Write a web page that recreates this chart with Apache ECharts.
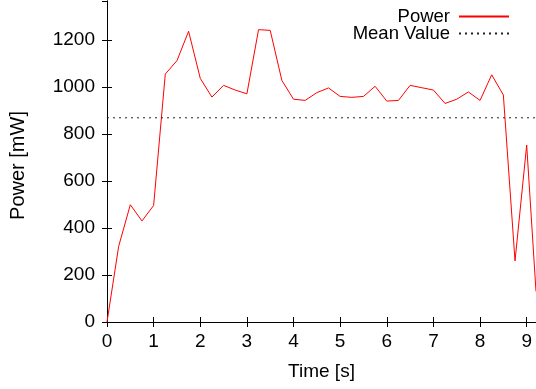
<!DOCTYPE html>
<html><head><meta charset="utf-8">
<script src="https://cdn.jsdelivr.net/npm/echarts@6/dist/echarts.min.js"></script>
<style>html,body{margin:0;padding:0;background:#fff}#c{width:536px;height:389px}</style>
</head><body><div id="c"></div>
<script>
var times = [0,0.25,0.5,0.75,1,1.25,1.5,1.75,2,2.25,2.5,2.75,3,3.25,3.5,3.75,4,4.25,4.5,4.75,5,5.25,5.5,5.75,6,6.25,6.5,6.75,7,7.25,7.5,7.75,8,8.25,8.5,8.75,9,9.2];
var power = [0,322,499,430,496,1055,1112,1237,1037,957,1007,987,971,1244,1241,1028,948,943,976,996,960,956,960,1003,940,943,1007,997,987,930,948,979,943,1052,966,260,753,130];
var meanValue = 869;
var meanTimes = [0, 9.25];
var xTicks = [0,1,2,3,4,5,6,7,8,9];
var yTicks = [0,200,400,600,800,1000,1200];

var FONT = 'Liberation Sans';
var chart = echarts.init(document.getElementById('c'), null, {renderer:'canvas'});
var powerData = times.map(function(t,i){return [t, power[i]];});
var meanData = meanTimes.map(function(t){return [t, meanValue];});
var axisCommon = {
  axisLine:{show:true, lineStyle:{color:'#000', width:1}},
  axisTick:{show:true, inside:true, length:5, lineStyle:{color:'#000', width:1}},
  splitLine:{show:false}
};
chart.setOption({
  animation:false,
  backgroundColor:'#fff',
  textStyle:{fontFamily:FONT},
  grid:{left:107, right:0, top:1, bottom:67, containLabel:false},
  legend:{
    orient:'vertical', right:21, top:2, align:'right',
    itemWidth:50, itemHeight:14, itemGap:-2,
    itemStyle:{opacity:0},
    textStyle:{fontFamily:FONT, fontSize:18.5, color:'#000', padding:[0,4,0,0]},
    data:['Power','Mean Value']
  },
  xAxis:[
    Object.assign({type:'value', min:0, max:9.2, interval:1, position:'bottom',
      name:'Time [s]', nameLocation:'middle', nameGap:40,
      nameTextStyle:{fontFamily:FONT, fontSize:19, color:'#000'},
      axisLabel:{fontFamily:FONT, fontSize:19, color:'#000', margin:10, showMaxLabel:false,
        formatter:function(v){return xTicks.indexOf(v)>=0?String(v):'';}}
    }, axisCommon),
    Object.assign({type:'value', min:0, max:9.2, interval:1, position:'top',
      axisLabel:{show:false}}, axisCommon)
  ],
  yAxis:[
    Object.assign({type:'value', min:0, max:1366, interval:200, position:'left',
      name:'Power [mW]', nameLocation:'middle', nameGap:79,
      nameTextStyle:{fontFamily:FONT, fontSize:20, color:'#000', padding:[0,8,0,0]},
      axisLabel:{fontFamily:FONT, fontSize:19, color:'#000', margin:12, showMaxLabel:false,
        formatter:function(v){return yTicks.indexOf(v)>=0?String(v):'';}}
    }, axisCommon),
    Object.assign({type:'value', min:0, max:1366, interval:200, position:'right',
      axisLabel:{show:false}}, axisCommon)
  ],
  series:[
    {name:'Power', type:'line', data:powerData, symbol:'none', clip:true,
      lineStyle:{color:'#ff0000', width:1}, itemStyle:{color:'#ff0000'}},
    {name:'Mean Value', type:'line', data:meanData, symbol:'none', clip:true,
      lineStyle:{color:'#222', width:1, type:[2,4]}, itemStyle:{color:'#222'}}
  ]
});
</script></body></html>
